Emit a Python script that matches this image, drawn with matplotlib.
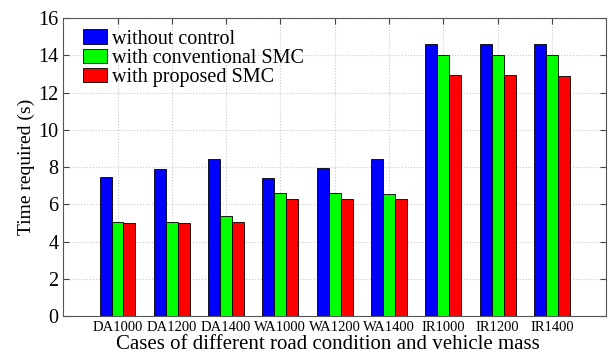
import numpy as np
import matplotlib.pyplot as plt

plt.rcParams['font.family'] = ['Liberation Serif', 'DejaVu Serif']

cases = ["DA1000", "DA1200", "DA1400", "WA1000", "WA1200",
         "WA1400", "IR1000", "IR1200", "IR1400"]
without_control = [7.45, 7.9, 8.44, 7.44, 7.93, 8.45, 14.6, 14.6, 14.6]
conventional_smc = [5.06, 5.06, 5.35, 6.62, 6.59, 6.55, 14.02, 14.02, 14.02]
proposed_smc = [5.01, 5.02, 5.06, 6.27, 6.28, 6.28, 12.92, 12.92, 12.91]

fig = plt.figure(figsize=(6.08, 3.54), dpi=100)
ax = fig.add_axes([0.104, 0.107, 0.893, 0.842])

x = np.arange(1, len(cases) + 1)
w = 0.22
ax.bar(x - w, without_control, w, color="#0000ff", edgecolor="black", linewidth=0.6,
       label="without control", zorder=3)
ax.bar(x, conventional_smc, w, color="#00ff00", edgecolor="black", linewidth=0.6,
       label="with conventional SMC", zorder=3)
ax.bar(x + w, proposed_smc, w, color="#ff0000", edgecolor="black", linewidth=0.6,
       label="with proposed SMC", zorder=3)

ax.set_xlim(0, 10)
ax.set_ylim(0, 16)
ax.set_xticks(x)
ax.set_xticklabels(cases, fontsize=10.5)
ax.set_yticks(np.arange(0, 17, 2))
ax.tick_params(axis="y", labelsize=14.5)
ax.tick_params(direction="in", top=True, right=True, length=4, color="#444444")
ax.grid(True, linestyle=":", color="#c8c8c8", linewidth=0.8, zorder=0)
for s in ax.spines.values():
    s.set_color("#555555")

ax.set_xlabel("Cases of different road condition and vehicle mass", fontsize=15)
ax.xaxis.set_label_coords(0.487, -0.062)
ax.set_ylabel("Time required (s)", fontsize=14, labelpad=2)

ax.legend(loc="upper left", bbox_to_anchor=(0.037, 0.962), frameon=False,
          fontsize=14.5, handlelength=1.2, handleheight=0.72, handletextpad=0.2,
          labelspacing=0.0, borderaxespad=0, borderpad=0)

fig.savefig("out.png", dpi=100)
